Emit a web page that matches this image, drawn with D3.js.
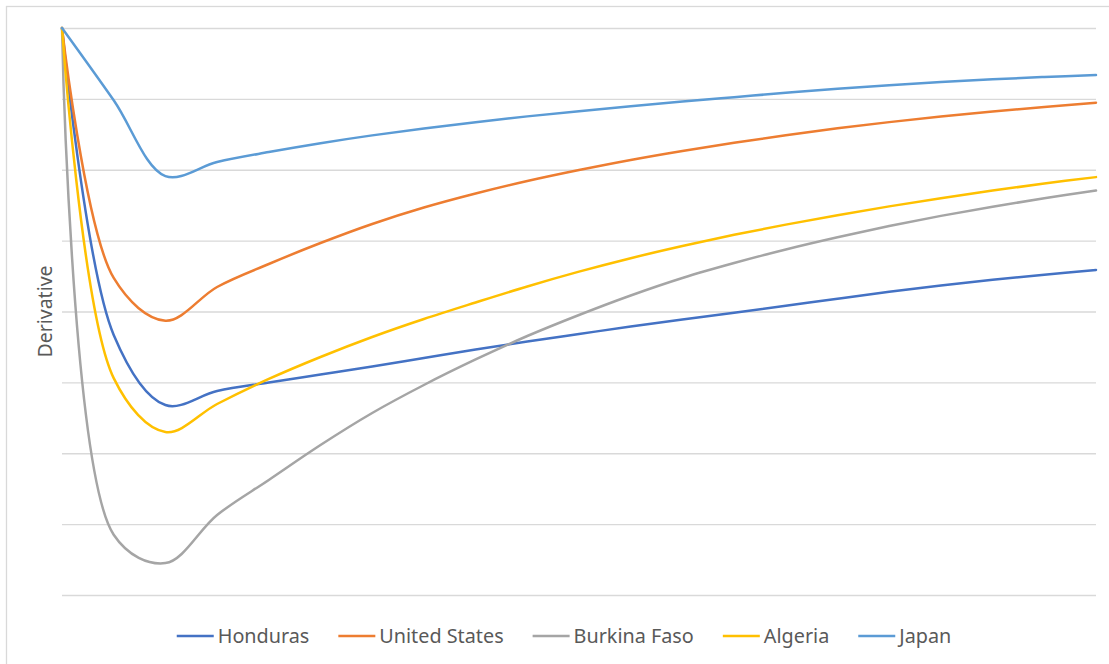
<!DOCTYPE html>
<html>
<head>
<meta charset="utf-8">
<script src="https://cdn.jsdelivr.net/npm/d3@7"></script>
<style>
  html, body { margin: 0; padding: 0; background: #fff; }
  svg { display: block; }
  text { font-family: "Noto Sans", "Open Sans", sans-serif; fill: #595959; }
</style>
</head>
<body>
<svg id="chart" width="1109" height="664"></svg>
<script>
// Sample steps along the horizontal axis
const steps = [0, 1, 2, 3, 4, 5, 6, 7, 8, 9, 10, 11, 12, 13, 14, 15, 16, 17, 18, 19, 20];

// Derivative values per country (one value per step)
const honduras = [0, -4.33, -5.32, -5.122, -5.002, -4.889, -4.776, -4.656, -4.536, -4.423, -4.317,
  -4.212, -4.113, -4.018, -3.920, -3.819, -3.722, -3.633, -3.553, -3.481, -3.414];
const unitedStates = [0, -3.527, -4.13, -3.654, -3.330, -3.034, -2.765, -2.533, -2.335, -2.159, -2.004,
  -1.862, -1.735, -1.620, -1.514, -1.415, -1.328, -1.249, -1.178, -1.115, -1.055];
const burkinaFaso = [0, -7.15, -7.55, -6.871, -6.377, -5.884, -5.432, -5.037, -4.677, -4.346, -4.049,
  -3.774, -3.527, -3.316, -3.125, -2.953, -2.795, -2.651, -2.521, -2.403, -2.293];
const algeria = [0, -4.94, -5.70, -5.305, -4.952, -4.642, -4.360, -4.106, -3.873, -3.647, -3.438,
  -3.248, -3.076, -2.918, -2.774, -2.641, -2.517, -2.401, -2.294, -2.194, -2.104];
const japan = [0, -1.02, -2.09, -1.891, -1.750, -1.625, -1.515, -1.418, -1.329, -1.247, -1.173,
  -1.104, -1.038, -0.976, -0.914, -0.856, -0.807, -0.763, -0.724, -0.691, -0.663];

const seriesNames = ["Honduras", "United States", "Burkina Faso", "Algeria", "Japan"];
const seriesValues = [honduras, unitedStates, burkinaFaso, algeria, japan];
const seriesColors = ["#4472C4", "#ED7D31", "#A5A5A5", "#FFC000", "#5B9BD5"];
const gridValues = [-8, -7, -6, -5, -4, -3, -2, -1, 0];
const axisTitle = "Derivative";

const svg = d3.select("#chart");
const W = 1109, H = 664;
const plot = { left: 62, right: 1096, top: 28, bottom: 595 };

// Chart area outline
svg.append("rect")
  .attr("x", 6.5).attr("y", 6.5)
  .attr("width", W + 20).attr("height", H + 20)
  .attr("fill", "#fff")
  .attr("stroke", "#D9D9D9").attr("stroke-width", 1.3);

const x = d3.scaleLinear().domain([steps[0], steps[steps.length - 1]]).range([plot.left, plot.right]);
const y = d3.scaleLinear().domain([-8, 0]).range([plot.bottom, plot.top]);

// Horizontal gridlines
const grid = svg.append("g")
  .attr("transform", `translate(${plot.left},0)`)
  .call(d3.axisLeft(y).tickValues(gridValues).tickSize(-(plot.right - plot.left)).tickFormat(""));
grid.select(".domain").remove();
grid.selectAll(".tick line").attr("stroke", "#D9D9D9").attr("stroke-width", 1.3);

// Smoothed series lines
const line = d3.line()
  .x((d, i) => x(steps[i]))
  .y(d => y(d))
  .curve(d3.curveCatmullRom.alpha(0.5));

svg.append("g").selectAll("path")
  .data(seriesValues)
  .join("path")
  .attr("d", d => line(d))
  .attr("fill", "none")
  .attr("stroke", (d, i) => seriesColors[i])
  .attr("stroke-width", 2.5)
  .attr("stroke-linejoin", "round")
  .attr("stroke-linecap", "round");

// Y axis title
svg.append("text")
  .attr("transform", `translate(52,${(plot.top + plot.bottom) / 2}) rotate(-90)`)
  .attr("text-anchor", "middle")
  .style("font-size", "19.5px")
  .text(axisTitle);

// Legend
const legend = svg.append("g");
const items = legend.selectAll("g")
  .data(seriesNames)
  .join("g");
items.append("line")
  .attr("x1", 0).attr("x2", 37)
  .attr("y1", 0).attr("y2", 0)
  .attr("stroke", (d, i) => seriesColors[i])
  .attr("stroke-width", 2.5);
items.append("text")
  .attr("x", 41).attr("y", 0)
  .attr("dy", "0.35em")
  .style("font-size", "19.8px")
  .text(d => d);

let offset = 0;
const positions = [];
items.each(function () {
  const w = this.getBBox().width;
  positions.push(offset);
  offset += w + 29;
});
const total = offset - 29;
const startX = 564 - total / 2;
items.attr("transform", (d, i) => `translate(${startX + positions[i]},636)`);
</script>
</body>
</html>
